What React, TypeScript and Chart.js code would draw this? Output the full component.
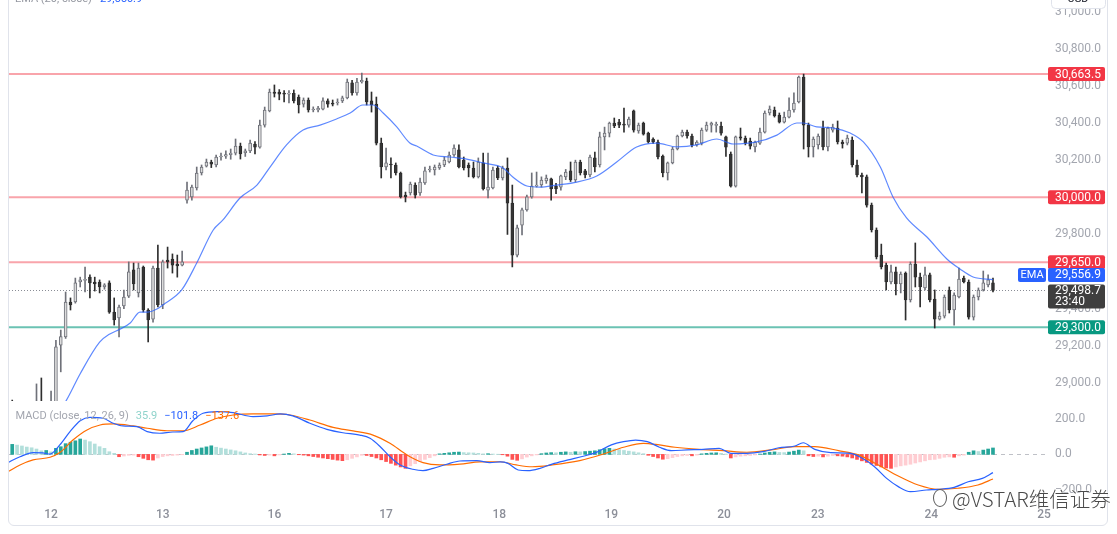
import React, { useEffect, useRef } from 'react';
import { Chart, registerables } from 'chart.js';
Chart.register(...registerables);

const FONT = "Roboto, 'Liberation Sans', Arial, sans-serif";

// ---------- candle data (hourly), index of first candle ----------
const firstIndex = -5;
const opens = [
  28880, 28860, 28830, 28820, 28845, 28860, 28880, 28870, 28850, 28875,
  29204, 29248, 29436, 29436, 29544, 29552, 29570, 29544, 29544, 29517,
  29539, 29382, 29350, 29415, 29468, 29609, 29485, 29624, 29393, 29344,
  29619, 29420, 29662, 29667, 29640, 29635, 29985, 30002, 30050, 30131,
  30168, 30190, 30174, 30217, 30222, 30230, 30238, 30276, 30240, 30250,
  30286, 30270, 30389, 30465, 30567, 30567, 30560, 30556, 30560, 30540,
  30502, 30524, 30470, 30470, 30475, 30519, 30508, 30508, 30519, 30535,
  30616, 30562, 30621, 30626, 30519, 30502, 30292, 30163, 30179, 30174,
  30131, 30012, 30023, 30066, 30023, 30077, 30147, 30147, 30158, 30174,
  30190, 30228, 30255, 30200, 30174, 30158, 30110, 30185, 30039, 30050,
  30158, 30104, 30158, 29969, 29689, 29850, 29932, 30002, 30060, 30066,
  30088, 30099, 30060, 30055, 30110, 30142, 30093, 30190, 30142, 30120,
  30212, 30174, 30325, 30346, 30400, 30405, 30394, 30389, 30465, 30357,
  30400, 30346, 30314, 30298, 30222, 30131, 30185, 30260, 30330, 30351,
  30330, 30282, 30292, 30362, 30389, 30387, 30384, 30325, 30233, 30060,
  30325, 30319, 30303, 30271, 30292, 30351, 30454, 30470, 30443, 30405,
  30432, 30470, 30513, 30648, 30389, 30271, 30282, 30373, 30271, 30362,
  30373, 30298, 30292, 30308, 30174, 30120, 30110, 29958, 29824, 29689,
  29635, 29544, 29598, 29533, 29592, 29447, 29640, 29570, 29512, 29582,
  29452, 29344, 29360, 29501, 29393, 29463, 29565, 29544, 29355, 29463,
  29501, 29528, 29539,
];
const highs = [
  28908, 28890, 28870, 28860, 28880, 28995, 29027, 28895, 28957, 29230,
  29285, 29490, 29458, 29565, 29570, 29624, 29582, 29570, 29555, 29535,
  29550, 29458, 29420, 29501, 29652, 29646, 29646, 29630, 29400, 29630,
  29743, 29662, 29732, 29695, 29689, 29711, 30082, 30066, 30163, 30174,
  30206, 30200, 30228, 30238, 30250, 30260, 30314, 30292, 30260, 30308,
  30300, 30416, 30486, 30583, 30605, 30580, 30575, 30575, 30578, 30551,
  30535, 30535, 30487, 30490, 30535, 30530, 30524, 30530, 30545, 30637,
  30630, 30640, 30669, 30642, 30567, 30540, 30319, 30265, 30212, 30185,
  30136, 30028, 30082, 30078, 30104, 30163, 30168, 30174, 30185, 30217,
  30244, 30282, 30282, 30217, 30185, 30190, 30212, 30238, 30238, 30163,
  30168, 30168, 30212, 30066, 29850, 29942, 30012, 30131, 30136, 30110,
  30120, 30104, 30075, 30120, 30150, 30190, 30200, 30200, 30150, 30228,
  30244, 30351, 30378, 30405, 30427, 30420, 30481, 30432, 30470, 30400,
  30405, 30351, 30320, 30308, 30228, 30190, 30270, 30335, 30362, 30362,
  30341, 30305, 30373, 30405, 30405, 30405, 30405, 30330, 30244, 30330,
  30373, 30330, 30319, 30303, 30373, 30465, 30492, 30486, 30454, 30459,
  30535, 30562, 30653, 30663.5, 30400, 30325, 30341, 30411, 30378, 30394,
  30411, 30308, 30335, 30325, 30200, 30131, 30120, 29969, 29835, 29748,
  29646, 29635, 29624, 29598, 29598, 29652, 29754, 29592, 29624, 29592,
  29501, 29382, 29474, 29517, 29485, 29619, 29576, 29555, 29474, 29512,
  29603, 29582, 29565,
];
const lows = [
  28830, 28800, 28790, 28780, 28800, 28840, 28850, 28820, 28830, 28860,
  29060, 29240, 29393, 29430, 29517, 29490, 29458, 29495, 29485, 29505,
  29375, 29312, 29248, 29400, 29460, 29501, 29463, 29382, 29221, 29328,
  29410, 29400, 29619, 29592, 29570, 29630, 29969, 29985, 30039, 30120,
  30163, 30160, 30163, 30200, 30210, 30205, 30228, 30206, 30220, 30240,
  30233, 30265, 30378, 30460, 30540, 30525, 30513, 30508, 30508, 30454,
  30486, 30459, 30460, 30460, 30470, 30485, 30492, 30497, 30510, 30530,
  30550, 30550, 30615, 30497, 30459, 30282, 30104, 30147, 30104, 30120,
  29996, 29975, 30012, 29996, 30010, 30070, 30136, 30120, 30150, 30165,
  30185, 30220, 30158, 30147, 30110, 30104, 30104, 30039, 29996, 30045,
  30095, 30093, 29800, 29625, 29679, 29797, 29925, 29995, 30055, 30055,
  30075, 29985, 30020, 30039, 30095, 30085, 30082, 30120, 30104, 30110,
  30136, 30163, 30255, 30325, 30375, 30375, 30351, 30378, 30351, 30345,
  30335, 30292, 30290, 30206, 30110, 30093, 30180, 30255, 30325, 30319,
  30271, 30275, 30282, 30355, 30351, 30351, 30335, 30220, 30055, 30055,
  30308, 30282, 30260, 30244, 30285, 30346, 30443, 30432, 30400, 30400,
  30427, 30459, 30508, 30260, 30217, 30217, 30260, 30255, 30250, 30351,
  30287, 30265, 30282, 30163, 30110, 30023, 29947, 29813, 29668, 29614,
  29501, 29533, 29474, 29485, 29339, 29436, 29517, 29409, 29501, 29436,
  29296, 29339, 29350, 29377, 29312, 29458, 29539, 29344, 29339, 29447,
  29495, 29517, 29490,
];
const closes = [
  28860, 28830, 28820, 28845, 28860, 28880, 28870, 28850, 28875, 29195,
  29250, 29436, 29420, 29539, 29555, 29558, 29539, 29533, 29517, 29528,
  29382, 29339, 29409, 29463, 29598, 29533, 29619, 29393, 29339, 29619,
  29420, 29652, 29652, 29635, 29630, 29652, 30039, 30055, 30131, 30163,
  30190, 30179, 30217, 30222, 30230, 30238, 30276, 30233, 30250, 30292,
  30270, 30389, 30470, 30567, 30560, 30556, 30556, 30560, 30519, 30497,
  30524, 30470, 30475, 30480, 30519, 30502, 30502, 30513, 30535, 30621,
  30562, 30621, 30630, 30513, 30497, 30292, 30163, 30185, 30174, 30131,
  30002, 30002, 30071, 30012, 30082, 30142, 30152, 30163, 30174, 30200,
  30228, 30265, 30163, 30158, 30158, 30110, 30190, 30045, 30055, 30147,
  30104, 30158, 29969, 29689, 29835, 29932, 30002, 30060, 30066, 30093,
  30104, 30045, 30045, 30115, 30136, 30093, 30190, 30131, 30120, 30217,
  30163, 30325, 30346, 30400, 30384, 30389, 30389, 30421, 30362, 30389,
  30340, 30298, 30298, 30217, 30131, 30185, 30260, 30330, 30351, 30330,
  30282, 30298, 30362, 30389, 30400, 30391, 30346, 30270, 30060, 30325,
  30319, 30292, 30276, 30298, 30351, 30454, 30475, 30438, 30405, 30432,
  30470, 30508, 30648, 30389, 30271, 30314, 30330, 30271, 30373, 30378,
  30298, 30287, 30319, 30174, 30120, 30110, 29958, 29824, 29679, 29625,
  29544, 29598, 29533, 29587, 29447, 29640, 29570, 29517, 29582, 29447,
  29344, 29360, 29463, 29393, 29474, 29560, 29544, 29355, 29463, 29501,
  29539, 29555, 29498.7,
];

// EMA(20) at sample candles
const emaIdx = [4, 6, 9, 13, 15, 17.2, 19.3, 21.3, 23, 24.8, 26, 29.9, 33, 36.4, 38.4, 41.9, 45.4, 48.1, 51.5, 54.9, 58.4, 61.8, 64.6, 67.2, 69.3, 71.4, 74.2, 76.9, 78.3, 81.7, 85.2, 88.6, 92, 96.1, 98.1, 101, 103.7, 107.1, 111.3, 115.4, 119.5, 123.6, 127.7, 131.9, 136, 140.1, 143.5, 148.3, 152.5, 156.6, 157.9, 160.7, 164.1, 167.6, 170.3, 173.8, 176.4, 179.2, 183.4, 187.5, 190.2, 192.9, 197];
const emaVal = [28830, 28900, 29050, 29220, 29262, 29290, 29323, 29382, 29382, 29398, 29420, 29501, 29646, 29824, 29878, 29996, 30066, 30163, 30282, 30362, 30389, 30422, 30454, 30497, 30497, 30454, 30379, 30292, 30276, 30228, 30217, 30206, 30185, 30158, 30109, 30061, 30055, 30066, 30082, 30115, 30190, 30271, 30292, 30271, 30282, 30314, 30287, 30298, 30335, 30400, 30400, 30379, 30373, 30346, 30298, 30163, 30002, 29889, 29786, 29668, 29614, 29571, 29556.9];

// MACD histogram per candle (from firstIndex)
const histVals = [
  56, 52, 47, 41, 37,
  30, 20, 22, 14, 34, 43, 60, 68, 76, 86,
  80, 71, 58, 43, 34, 15, 6, -13, -9, -5,
  -4, -13, -22, -30, -32, -20, -12, -8, -6, -4,
  -2, 12, 22, 30, 36, 42, 48, 40, 35, 30,
  25, 20, 14, 8, 4, 2, -3, -6, -4, -8,
  -3, 2, 6, 3, -2, -4, -8, -12, -16, -20,
  -24, -28, -32, -35, -30, -22, -14, -5, -6, -12,
  -20, -30, -40, -50, -60, -70, -78, -64, -52, -40,
  -28, -18, -8, 3, 6, 9, 12, 13, 10, 9,
  8, 6, 3, 4, 2, 1, -2, -10, -28, -33,
  -25, -15, -8, -3, 4, 8, 10, 9, 12, 14,
  12, 15, 14, 16, 18, 20, 26, 32, 34, 30,
  26, 22, 18, 14, 9, 4, -5, -12, -20, -27,
  -24, -18, -12, -8, -6, -8, -4, 3, 6, 8,
  9, 6, 2, -20, -14, -10, -8, -6, -3, 2,
  8, 12, 14, 11, 10, 13, 18, 24, 20, -8,
  -12, -10, -14, -10, -6, -8, -10, -14, -20, -28,
  -36, -45, -54, -62, -70, -76, -78, -70, -64, -60,
  -55, -48, -42, -36, -30, -28, -22, -16, -14, -16,
  -8, -4, 12, 20, 16, 24, 30, 35.9,
];
const macdIdx = [-5.9, -3.4, -0.7, 1.3, 2.8, 4.8, 6.9, 9, 11, 13.7, 15.8, 17.8, 20.7, 22.8, 25.4, 28.1, 30.2, 32.2, 34.3, 37.2, 40.5, 44.6, 47.5, 50.2, 52.8, 56.3, 59.8, 63.1, 66.6, 68.7, 70.8, 72.8, 74.9, 77.5, 79.6, 81.7, 84.5, 87.2, 90.7, 93.4, 95.5, 97.1, 99.2, 101.2, 103.7, 106.2, 109.5, 112.8, 115.2, 118.4, 120.9, 123.4, 125.8, 128.3, 130.8, 134, 137.3, 140.6, 143, 146.3, 149.6, 152.9, 156.2, 157.9, 160.3, 163.6, 167.7, 170.1, 172.6, 175.1, 177.5, 180, 183.3, 185.7, 189, 191.9, 194.8, 197];
const macdVal = [-46, -13, 10, 8, 2, 53, 127, 188, 207, 202, 174, 159, 155, 127, 118, 125, 127, 188, 230, 239, 233, 211, 215, 226, 215, 174, 140, 121, 108, 90, 43, -13, -59, -83, -91, -78, -55, -37, -35, -46, -42, -50, -87, -91, -78, -54, -31, -9, 10, 53, 71, 80, 71, 40, 21, 25, 28, 34, 6, 6, 15, 37, 47, 65, 28, 10, 6, -22, -69, -134, -180, -208, -199, -195, -184, -153, -134, -101.8];
const sigIdx = [-5.9, -3.4, -0.7, 2.8, 4.8, 7.5, 10.4, 13.1, 15.8, 19.9, 22.8, 26.9, 30.2, 33.7, 37.2, 40.5, 44.6, 48.7, 52.2, 56.3, 61.1, 65.2, 69.3, 72.8, 76.3, 79.6, 83.1, 87.2, 91.3, 95.5, 98.8, 102.1, 106.2, 111.9, 116.8, 120.9, 125, 128.3, 131.5, 136.5, 141.4, 146.3, 151.3, 156.2, 160.3, 165.2, 169.3, 173.4, 177.5, 181.6, 185.7, 189.8, 193.9, 197];
const sigVal = [-97, -59, -31, -16, 10, 80, 136, 164, 170, 159, 146, 132, 132, 164, 202, 220, 226, 226, 220, 192, 151, 131, 108, 62, -3, -46, -59, -54, -42, -41, -59, -69, -59, -35, 2, 40, 62, 53, 40, 28, 21, 12, 25, 43, 43, 21, -3, -59, -121, -171, -195, -189, -171, -137.6];

// levels & axis
const resistanceLevels = [30663.5, 30000, 29650];
const supportLevels = [29300];
const lastPrice = 29498.7;
const lastCountdown = '23:40';
const emaLast = 29556.9;
const priceTicks = [29000, 29200, 29400, 29600, 29800, 30000, 30200, 30400, 30600, 30800, 31000];
const macdTicks = [-200, 0, 200];
const dayIdx = [3, 26, 49, 72, 95.3, 118.4, 141.6, 160.9, 184.3, 207.5];
const dayLabels = ['12', '13', '16', '17', '18', '19', '20', '23', '24', '25'];
const macdLegend = ['35.9', '−101.8', '−137.6'];

const X_MIN = -5.664, X_MAX = 207.92;
const PRICE_MIN = 28903, PRICE_MAX = 31062.5;
const MACD_MIN = -282.7, MACD_MAX = 298.3;
const AXIS_W = 71;

const fmt = (v: number) => (v < 0 ? '−' : '') + Math.abs(v).toLocaleString('en-US', { minimumFractionDigits: 1, maximumFractionDigits: 1 });

const UP_FILL = '#dcdcdc', UP_LINE = '#6f7179', DN_FILL = '#363636', DN_LINE = '#2e2e2e';

function box(ctx: any, x: number, y: number, w: number, h: number, color: string) {
  ctx.fillStyle = color;
  ctx.beginPath();
  if (ctx.roundRect) ctx.roundRect(x, y, w, h, 2); else ctx.rect(x, y, w, h);
  ctx.fill();
}

const pricePlugin = {
  id: 'priceDecor',
  beforeDatasetsDraw(chart: any) {
    const { ctx, chartArea: a, scales } = chart;
    const y = scales.y;
    ctx.save();
    ctx.lineWidth = 2;
    ctx.strokeStyle = 'rgba(242,54,69,0.45)';
    resistanceLevels.forEach((v) => {
      const py = y.getPixelForValue(v);
      ctx.beginPath(); ctx.moveTo(a.left, py); ctx.lineTo(a.right + 2, py); ctx.stroke();
    });
    ctx.strokeStyle = 'rgba(8,153,129,0.6)';
    supportLevels.forEach((v) => {
      const py = y.getPixelForValue(v);
      ctx.beginPath(); ctx.moveTo(a.left, py); ctx.lineTo(a.right + 2, py); ctx.stroke();
    });
    const lp = Math.round(y.getPixelForValue(lastPrice)) + 0.5;
    ctx.lineWidth = 1;
    ctx.setLineDash([1, 2]);
    ctx.strokeStyle = '#8a8d96';
    ctx.beginPath(); ctx.moveTo(a.left, lp); ctx.lineTo(a.right, lp); ctx.stroke();
    ctx.restore();
  },
  afterDraw(chart: any) {
    const { ctx, scales } = chart;
    const y = scales.y;
    ctx.save();
    ctx.font = `12px ${FONT}`;
    ctx.textBaseline = 'middle';
    const BX = 1048, BW = 57, BH = 14;
    resistanceLevels.forEach((v) => {
      const py = y.getPixelForValue(v);
      box(ctx, BX, py - BH / 2, BW, BH, '#f23645');
      ctx.fillStyle = '#fff'; ctx.textAlign = 'left'; ctx.fillText(fmt(v), 1055, py + 0.5);
    });
    supportLevels.forEach((v) => {
      const py = y.getPixelForValue(v);
      box(ctx, BX, py - BH / 2, BW, BH, '#089981');
      ctx.fillStyle = '#fff'; ctx.textAlign = 'left'; ctx.fillText(fmt(v), 1055, py + 0.5);
    });
    // EMA tag
    const ey = y.getPixelForValue(emaLast) - 4.6;
    box(ctx, BX, ey - BH / 2, BW, BH, '#2962ff');
    ctx.fillStyle = '#fff'; ctx.textAlign = 'left'; ctx.fillText(fmt(emaLast), 1055, ey + 0.5);
    box(ctx, 1018, ey - BH / 2, 28, BH, '#2962ff');
    ctx.font = `11px ${FONT}`;
    ctx.fillStyle = '#fff'; ctx.textAlign = 'center'; ctx.fillText('EMA', 1032, ey + 0.5);
    // last price
    const ly = y.getPixelForValue(lastPrice);
    box(ctx, BX, ly - 6, BW, 24, '#3f3f3f');
    ctx.font = `12px ${FONT}`;
    ctx.fillStyle = '#fff'; ctx.textAlign = 'left';
    ctx.fillText(fmt(lastPrice), 1055, ly + 1);
    ctx.fillText(lastCountdown, 1055, ly + 12);
    // EMA legend (cut at top)
    ctx.font = `11px ${FONT}`;
    ctx.textBaseline = 'alphabetic';
    ctx.textAlign = 'left';
    ctx.fillStyle = '#9598a1';
    const lbl = 'EMA (20, close)';
    ctx.fillText(lbl, 15, 2);
    ctx.fillStyle = '#2962ff';
    ctx.fillText(fmt(emaLast), 15 + ctx.measureText(lbl).width + 8, 2);
    // USD box
    ctx.fillStyle = '#fff';
    ctx.strokeStyle = '#e0e3eb';
    ctx.lineWidth = 1;
    ctx.beginPath();
    if (ctx.roundRect) ctx.roundRect(1051.5, -12, 54, 20.5, 4); else ctx.rect(1051.5, -12, 54, 20.5);
    ctx.fill(); ctx.stroke();
    ctx.fillStyle = '#131722';
    ctx.textAlign = 'center';
    ctx.fillText('USD', 1078, 2);
    ctx.restore();
  },
};

const macdPlugin = {
  id: 'macdDecor',
  beforeDatasetsDraw(chart: any) {
    const { ctx, chartArea: a, scales } = chart;
    const zy = Math.round(scales.y.getPixelForValue(0)) + 0.5;
    ctx.save();
    ctx.setLineDash([4, 4]);
    ctx.strokeStyle = 'rgba(149,152,161,0.6)';
    ctx.lineWidth = 1;
    ctx.beginPath(); ctx.moveTo(a.left, zy); ctx.lineTo(a.right, zy); ctx.stroke();
    ctx.restore();
  },
  afterDraw(chart: any) {
    const { ctx } = chart;
    ctx.save();
    ctx.font = `11px ${FONT}`;
    ctx.textBaseline = 'middle';
    ctx.textAlign = 'left';
    let x = 15.5;
    const yy = 15.5;
    const parts: [string, string][] = [
      ['MACD (close, 12, 26, 9)', '#a3a6af'],
      [macdLegend[0], '#8fd3cb'],
      [macdLegend[1], '#2962ff'],
      [macdLegend[2], '#ff6d00'],
    ];
    parts.forEach(([t, c]) => {
      ctx.fillStyle = c;
      ctx.fillText(t, x, yy);
      x += ctx.measureText(t).width + 7;
    });
    ctx.restore();
  },
};

export default function App() {
  const pRef = useRef<HTMLCanvasElement>(null);
  const mRef = useRef<HTMLCanvasElement>(null);

  useEffect(() => {
    const idx = opens.map((_, k) => k + firstIndex);
    const up = (k: number) => closes[k] >= opens[k];

    const yAxisCommon = (min: number, max: number, ticks: number[]) => ({
      position: 'right',
      min,
      max,
      afterFit: (s: any) => { s.width = AXIS_W; s.paddingTop = 0; s.paddingBottom = 0; },
      afterBuildTicks: (s: any) => { s.ticks = ticks.map((v) => ({ value: v })); },
      ticks: { callback: (v: any) => fmt(Number(v)), color: '#a3a6af', font: { size: 12, family: FONT }, padding: 9 },
      grid: { display: false, drawTicks: false },
      border: { display: false },
    });

    const c1 = new Chart(pRef.current as HTMLCanvasElement, {
      type: 'bar',
      data: {
        datasets: [
          {
            type: 'line',
            data: emaIdx.map((x, k) => ({ x, y: emaVal[k] })),
            borderColor: 'rgba(41,98,255,0.75)',
            borderWidth: 1.2,
            pointRadius: 0,
            cubicInterpolationMode: 'monotone',
            order: 1,
          } as any,
          {
            type: 'bar',
            data: idx.map((x, k) => ({ x, y: [opens[k], closes[k]] })),
            backgroundColor: idx.map((_, k) => (up(k) ? UP_FILL : DN_FILL)),
            borderColor: idx.map((_, k) => (up(k) ? UP_LINE : DN_LINE)),
            borderWidth: 1,
            borderSkipped: false,
            barThickness: 3,
            minBarLength: 1,
            grouped: false,
            order: 2,
          } as any,
          {
            type: 'bar',
            data: idx.map((x, k) => ({ x, y: [lows[k], highs[k]] })),
            backgroundColor: idx.map((_, k) => (up(k) ? UP_LINE : DN_LINE)),
            barThickness: 1,
            grouped: false,
            order: 3,
          } as any,
        ],
      },
      options: {
        animation: false,
        responsive: false,
        maintainAspectRatio: false,
        layout: { padding: { left: 9, right: 0, top: 0, bottom: 0 } },
        plugins: { legend: { display: false }, tooltip: { enabled: false } },
        scales: {
          x: { type: 'linear', min: X_MIN, max: X_MAX, offset: false, display: false },
          y: yAxisCommon(PRICE_MIN, PRICE_MAX, priceTicks),
        } as any,
      },
      plugins: [pricePlugin],
    });

    const histColors = histVals.map((v, k) => {
      const prev = k > 0 ? histVals[k - 1] : v;
      if (v >= 0) return v >= prev ? '#26a69a' : '#b2dfdb';
      return v < prev ? '#ff5252' : '#ffcdd2';
    });

    const c2 = new Chart(mRef.current as HTMLCanvasElement, {
      type: 'bar',
      data: {
        datasets: [
          {
            type: 'line',
            data: macdIdx.map((x, k) => ({ x, y: macdVal[k] })),
            borderColor: '#2962ff',
            borderWidth: 1.2,
            pointRadius: 0,
            cubicInterpolationMode: 'monotone',
            order: 1,
          } as any,
          {
            type: 'line',
            data: sigIdx.map((x, k) => ({ x, y: sigVal[k] })),
            borderColor: '#ff6d00',
            borderWidth: 1.2,
            pointRadius: 0,
            cubicInterpolationMode: 'monotone',
            order: 2,
          } as any,
          {
            type: 'bar',
            data: idx.map((x, k) => ({ x, y: histVals[k] })),
            backgroundColor: histColors,
            barThickness: 3,
            grouped: false,
            order: 3,
          } as any,
        ],
      },
      options: {
        animation: false,
        responsive: false,
        maintainAspectRatio: false,
        layout: { padding: { left: 9, right: 0, top: 0, bottom: 0 } },
        plugins: { legend: { display: false }, tooltip: { enabled: false } },
        scales: {
          x: {
            type: 'linear',
            min: X_MIN,
            max: X_MAX,
            offset: false,
            afterFit: (s: any) => { s.height = 20; s.paddingLeft = 0; s.paddingRight = 0; },
            afterBuildTicks: (s: any) => { s.ticks = dayIdx.map((v) => ({ value: v })); },
            ticks: {
              callback: (_v: any, i: number) => dayLabels[i],
              color: '#8c8f99',
              font: { size: 12, family: FONT, weight: '500' },
              padding: 3,
              autoSkip: false,
              maxRotation: 0,
            },
            grid: { display: false, drawTicks: false },
            border: { display: false },
          },
          y: yAxisCommon(MACD_MIN, MACD_MAX, macdTicks),
        } as any,
      },
      plugins: [macdPlugin],
    });

    return () => { c1.destroy(); c2.destroy(); };
  }, []);

  return (
    <div style={{ position: 'fixed', left: 0, top: 0, width: 1117, height: 534, background: '#fff', overflow: 'hidden' }}>
      <div style={{ position: 'absolute', left: 8, top: -10, width: 1100, height: 536, border: '1px solid #e0e3eb', borderRadius: 6, boxSizing: 'border-box' }} />
      <canvas ref={pRef} width={1117} height={401} style={{ position: 'absolute', left: 0, top: 0, width: 1117, height: 401 }} />
      <canvas ref={mRef} width={1117} height={124} style={{ position: 'absolute', left: 0, top: 401, width: 1117, height: 124 }} />
      <div style={{ position: 'absolute', left: 933, top: 484, height: 28, display: 'flex', alignItems: 'center', gap: 5, fontFamily: "'Noto Sans CJK SC', sans-serif", fontSize: 20.5, fontWeight: 300, color: '#4a4a4a', whiteSpace: 'nowrap', textShadow: '0 0 2px #fff, 0 0 2px #fff' }}>
        <span style={{ display: 'inline-block', width: 12, height: 16, border: '1.5px solid #5a5a5a', borderRadius: '50%' }} />
        <span>@VSTAR维信证券</span>
      </div>
    </div>
  );
}
